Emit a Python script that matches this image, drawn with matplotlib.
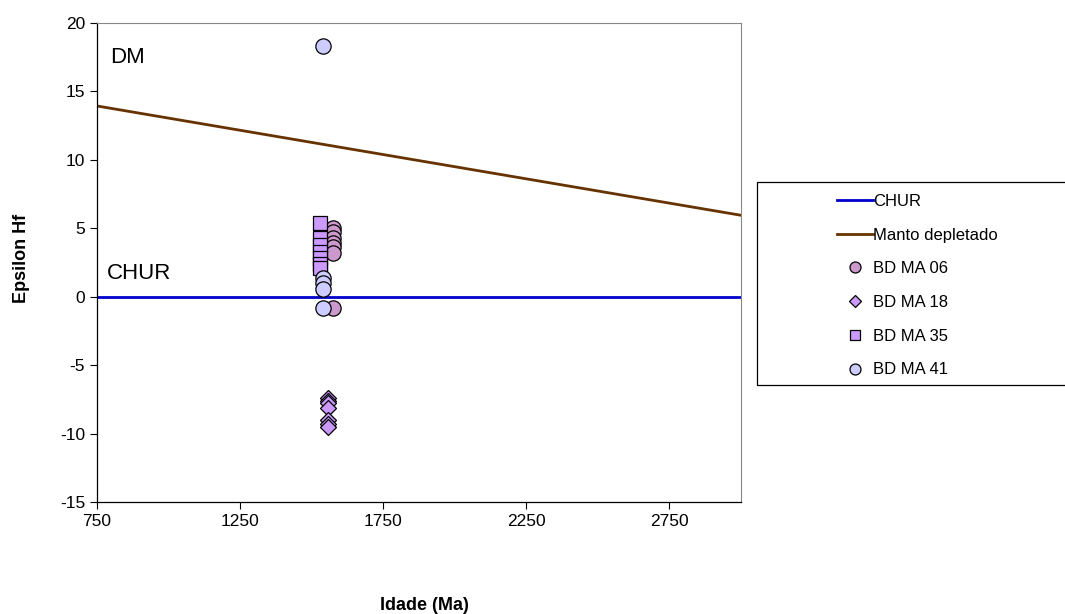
import matplotlib.pyplot as plt
from matplotlib.patches import Rectangle

plt.rcParams["font.family"] = ["Liberation Sans", "DejaVu Sans"]
plt.rcParams["axes.unicode_minus"] = False

# reference curves
chur_x = [0, 4000]
chur_y = [0, 0]
dm_x = [0, 4000]
dm_y = [16.6, 2.4]

# samples (age in Ma, epsilon Hf)
ma06_age = [1575, 1575, 1575, 1575, 1575, 1575, 1575]
ma06_eps = [5.0, 4.7, 4.3, 3.9, 3.6, 3.2, -0.8]

ma18_age = [1557, 1557, 1557, 1557, 1557, 1557, 1557]
ma18_eps = [-7.4, -7.6, -7.8, -8.1, -9.0, -9.3, -9.5]

ma35_age = [1530, 1530, 1530, 1530, 1530, 1530, 1530]
ma35_eps = [5.4, 4.3, 3.8, 3.3, 2.8, 2.4, 2.1]

ma41_age = [1540, 1540, 1540, 1540, 1540]
ma41_eps = [18.3, 1.4, 1.0, 0.6, -0.8]

x_ticks = [750, 1250, 1750, 2250, 2750]
y_ticks = [-15, -10, -5, 0, 5, 10, 15, 20]


def main():
    fig = plt.figure(figsize=(10.65, 6.14), dpi=100)
    ax = fig.add_axes([97 / 1065, 1 - 502 / 614, (741 - 97) / 1065, (502 - 23) / 614])

    ax.plot(chur_x, chur_y, color="#0000CC", lw=2, label="CHUR", zorder=2)
    ax.plot(dm_x, dm_y, color="#663300", lw=2, label="Manto depletado", zorder=2)

    ax.plot(ma06_age, ma06_eps, "o", ms=11, mfc="#CC99CC", mec="black", mew=0.9,
            label="BD MA 06", zorder=3)
    ax.plot(ma18_age, ma18_eps, "D", ms=8, mfc="#CC99FF", mec="black", mew=0.9,
            label="BD MA 18", zorder=3)
    ax.plot(ma35_age, ma35_eps, "s", ms=10, mfc="#CC99FF", mec="black", mew=0.9,
            label="BD MA 35", zorder=3)
    ax.plot(ma41_age, ma41_eps, "o", ms=11, mfc="#CCCCFF", mec="black", mew=0.9,
            label="BD MA 41", zorder=4)

    ax.set_xlim(750, 3000)
    ax.set_ylim(-15, 20)
    ax.set_xticks(x_ticks)
    ax.set_yticks(y_ticks)
    ax.tick_params(direction="out", length=5, width=0.8, labelsize=12.5, color="black")
    ax.spines["top"].set_color("#888888")
    ax.spines["right"].set_color("#888888")
    for s in ("left", "bottom"):
        ax.spines[s].set_linewidth(0.9)

    ax.text(795, 17.5, "DM", fontsize=16, ha="left", va="center")
    ax.text(785, 1.7, "CHUR", fontsize=16, ha="left", va="center")

    fig.text(22 / 1065, 1 - 258 / 614, "Epsilon Hf", fontsize=13, fontweight="bold",
             rotation=90, ha="center", va="center")
    fig.text(424 / 1065, 1 - 605 / 614, "Idade (Ma)", fontsize=13, fontweight="bold",
             ha="center", va="center")

    # legend frame runs off the right edge as in the original
    fig.patches.append(Rectangle((757 / 1065, 1 - 385 / 614), 320 / 1065, 203 / 614,
                                 transform=fig.transFigure, fill=False,
                                 edgecolor="black", lw=0.9))
    fig.legend(loc="upper left", bbox_to_anchor=(837 / 1065, 1 - 194 / 614),
               frameon=False, fontsize=12, handlelength=2.15, handletextpad=0.0,
               labelspacing=1.12, borderaxespad=0, borderpad=0,
               markerscale=0.72)

    fig.savefig("out.png", dpi=100)
    plt.close(fig)


if __name__ == "__main__":
    main()
